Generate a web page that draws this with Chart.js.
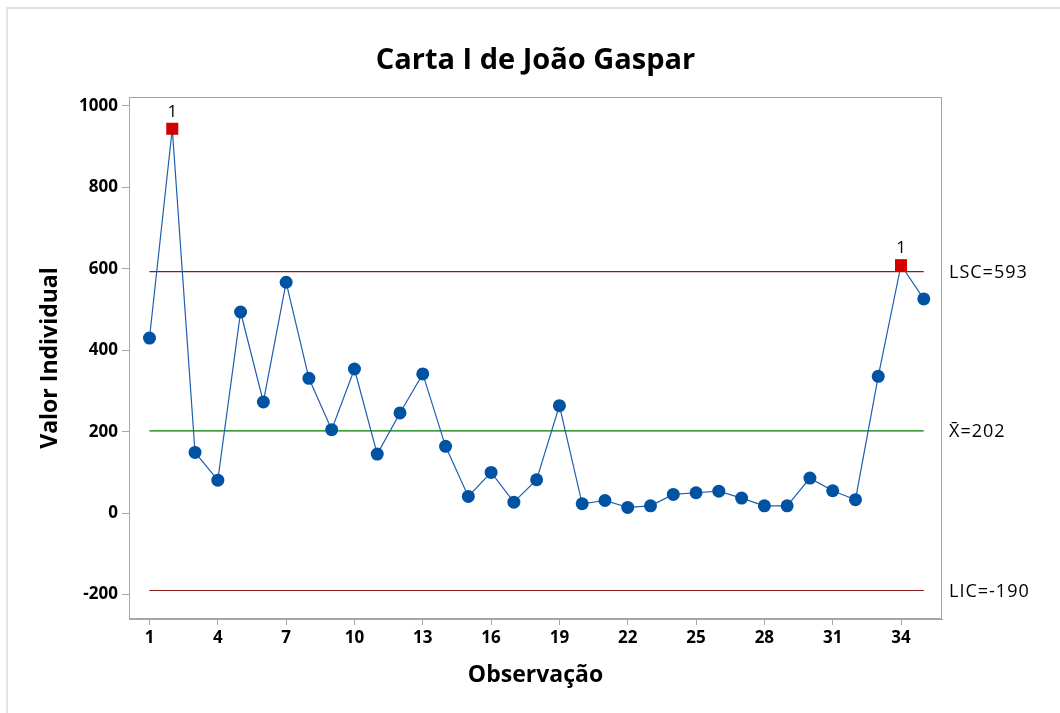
<!DOCTYPE html>
<html><head><meta charset="utf-8">
<script src="https://cdn.jsdelivr.net/npm/chart.js@4.4.1/dist/chart.umd.min.js"></script>
<style>
html,body{margin:0;padding:0;background:#fff;}
#wrap{position:relative;width:1060px;height:713px;overflow:hidden;}
#frame{position:absolute;left:6px;top:7px;width:1200px;height:800px;border:2px solid #e2e2e2;box-sizing:border-box;}
canvas{position:absolute;left:0;top:0;}
</style></head><body>
<div id="wrap"><div id="frame"></div><canvas id="c" width="1060" height="713"></canvas></div>
<script>
const observations = [1,2,3,4,5,6,7,8,9,10,11,12,13,14,15,16,17,18,19,20,21,22,23,24,25,26,27,28,29,30,31,32,33,34,35];
const values = [430,944,149,81,494,273,567,331,205,354,145,246,342,164,41,100,27,82,264,23,31,14,18,46,50,54,37,18,18,86,55,33,336,609,526];
const xTicks = [1,4,7,10,13,16,19,22,25,28,31,34];
const yTicks = [-200,0,200,400,600,800,1000];
const ucl = 593;
const centerLine = 202;
const lcl = -190;
const limitLabels = ['LSC=593','X\u0304=202','LIC=-190'];
const titleText = 'Carta I de João Gaspar';
const xTitle = 'Observação';
const yTitle = 'Valor Individual';

const FONT = "'Open Sans', 'Noto Sans', sans-serif";
const out = values.map(v => v > ucl || v < lcl);
const pts = observations.map((x,i)=>({x, y: values[i]}));
const first = observations[0], last = observations[observations.length-1];

const overlay = {
  id: 'overlay',
  afterDraw(chart){
    const {ctx, chartArea:a, scales:{x, y}} = chart;
    ctx.save();
    ctx.strokeStyle = '#a6a6a6'; ctx.lineWidth = 1;
    ctx.strokeRect(a.left+0.5, a.top+0.5, a.right-a.left-1, a.bottom-a.top-1);
    ctx.fillStyle = '#000';
    ctx.font = `bold 29px ${FONT}`;
    ctx.textAlign = 'center'; ctx.textBaseline = 'alphabetic';
    ctx.fillText(titleText, (a.left+a.right)/2, 69);
    ctx.font = `18px ${FONT}`;
    ctx.letterSpacing = '1px';
    ctx.textAlign = 'left'; ctx.textBaseline = 'middle';
    [ucl, centerLine, lcl].forEach((v,i)=>{
      ctx.fillText(limitLabels[i], a.right+7, y.getPixelForValue(v)+1);
    });
    ctx.letterSpacing = '0px';
    ctx.font = `17px ${FONT}`;
    ctx.textAlign = 'center'; ctx.textBaseline = 'alphabetic';
    values.forEach((v,i)=>{
      if (out[i]) ctx.fillText('1', x.getPixelForValue(observations[i]), y.getPixelForValue(v)-12);
    });
    ctx.restore();
  }
};

new Chart(document.getElementById('c'), {
  type: 'line',
  data: {
    datasets: [
      {data:[{x:first,y:ucl},{x:last,y:ucl}], borderColor:'#8b1a1a', borderWidth:1.2, pointRadius:0, order:3},
      {data:[{x:first,y:centerLine},{x:last,y:centerLine}], borderColor:'#007a00', borderWidth:1.3, pointRadius:0, order:3},
      {data:[{x:first,y:lcl},{x:last,y:lcl}], borderColor:'#8b1a1a', borderWidth:1.2, pointRadius:0, order:3},
      {data: pts, borderColor:'#1f5fae', borderWidth:1.2,
       pointStyle: out.map(o=>o?'rect':'circle'),
       pointRadius: out.map(o=>o?8.5:6.5),
       pointBackgroundColor: out.map(o=>o?'#d40000':'#0052a3'),
       pointBorderWidth: 0, order:1}
    ]
  },
  options: {
    responsive:false, animation:false, devicePixelRatio:1,
    layout:{padding:{left:0, top:97, right:118, bottom:0}},
    plugins:{legend:{display:false}, tooltip:{enabled:false}},
    scales:{
      x:{type:'linear', min:0.1, max:35.8,
        afterFit(s){s.height=94;},
        afterBuildTicks(s){s.ticks = xTicks.map(v=>({value:v}));},
        grid:{drawOnChartArea:false, drawTicks:true, tickLength:6, color:'#a6a6a6'},
        border:{display:true, color:'#a6a6a6'},
        ticks:{color:'#000', font:{family:FONT, size:17, weight:'bold'}, padding:3, maxRotation:0, autoSkip:false, callback:v=>String(v)},
        title:{display:true, text:xTitle, color:'#000', font:{family:FONT, size:23, weight:'bold'}, padding:{top:0,bottom:24}}
      },
      y:{type:'linear', min:-260, max:1022,
        afterFit(s){s.width=129;},
        afterBuildTicks(s){s.ticks = yTicks.map(v=>({value:v}));},
        grid:{drawOnChartArea:false, drawTicks:true, tickLength:7, color:'#a6a6a6'},
        border:{display:true, color:'#a6a6a6'},
        ticks:{color:'#000', font:{family:FONT, size:17, weight:'bold'}, padding:4, callback:v=>String(v)},
        title:{display:true, text:yTitle, color:'#000', font:{family:FONT, size:23, weight:'bold'}, padding:{top:37,bottom:0}}
      }
    }
  },
  plugins:[overlay]
});
</script>
</body></html>
